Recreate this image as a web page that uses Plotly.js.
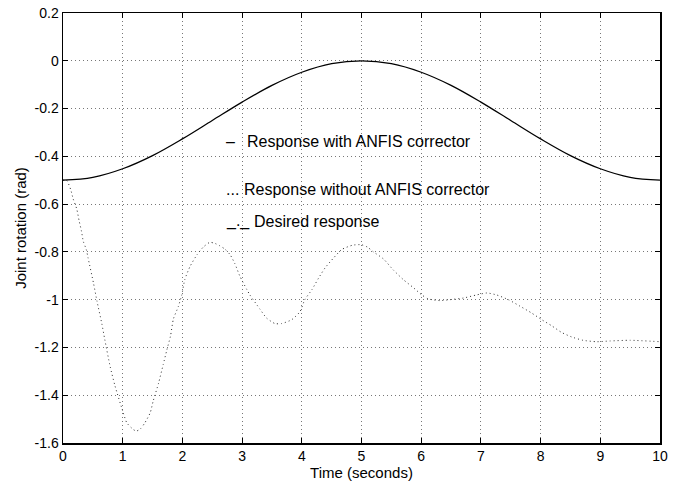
<!DOCTYPE html>
<html>
<head>
<meta charset="utf-8">
<script src="https://cdn.plot.ly/plotly-3.0.1.min.js"></script>
<style>html,body{margin:0;padding:0;background:#fff;}#chart{width:673px;height:483px;}</style>
</head>
<body>
<div id="chart"></div>
<script>
// Response with ANFIS corrector (coincides with desired response)
const timeWith = [0,0.5,1,1.5,2,2.5,3,3.5,4,4.5,5,5.5,6,6.5,7,7.5,8,8.5,9,9.5,10];
const rotWith  = [-0.500,-0.488,-0.452,-0.397,-0.327,-0.250,-0.173,-0.103,-0.048,-0.012,0.000,-0.012,-0.048,-0.103,-0.173,-0.250,-0.327,-0.397,-0.452,-0.488,-0.500];

// Response without ANFIS corrector
const timeWithout = [0,0.06,0.13,0.17,0.23,0.27,0.31,0.34,0.39,0.42,0.51,0.57,0.65,0.70,0.79,0.87,1.01,1.07,1.18,1.23,1.30,1.37,1.46,1.51,1.60,1.68,1.74,1.80,1.85,1.93,1.99,2.04,2.13,2.25,2.35,2.46,2.55,2.63,2.71,2.80,2.88,2.96,3.08,3.13,3.30,3.41,3.55,3.66,3.83,3.97,4.05,4.17,4.28,4.39,4.53,4.67,4.85,5.00,5.10,5.20,5.37,5.53,5.70,5.87,6.01,6.12,6.32,6.48,6.71,6.93,7.10,7.26,7.46,7.66,7.85,8.02,8.19,8.35,8.52,8.71,8.94,9.16,9.50,10.0];
const rotWithout  = [-0.500,-0.500,-0.540,-0.578,-0.620,-0.670,-0.714,-0.756,-0.790,-0.825,-0.930,-1.007,-1.100,-1.167,-1.280,-1.360,-1.474,-1.516,-1.544,-1.550,-1.540,-1.516,-1.474,-1.425,-1.350,-1.270,-1.210,-1.153,-1.080,-1.030,-0.980,-0.916,-0.860,-0.810,-0.780,-0.760,-0.765,-0.775,-0.788,-0.812,-0.850,-0.900,-0.958,-0.980,-1.040,-1.077,-1.100,-1.100,-1.084,-1.050,-1.000,-0.958,-0.910,-0.867,-0.826,-0.790,-0.772,-0.770,-0.780,-0.800,-0.830,-0.875,-0.916,-0.950,-0.980,-0.997,-1.004,-1.000,-0.993,-0.980,-0.972,-0.980,-1.000,-1.028,-1.056,-1.084,-1.110,-1.137,-1.156,-1.170,-1.176,-1.173,-1.170,-1.176];

const xTicks = [0,1,2,3,4,5,6,7,8,9,10];
const yTicks = [0.2,0,-0.2,-0.4,-0.6,-0.8,-1,-1.2,-1.4,-1.6];
const yTickText = ['0.2','0','-0.2','-0.4','-0.6','-0.8','-1','-1.2','-1.4','-1.6'];
const legendSymbols = ['–','...','_._'];
const legendTexts = ['Response with ANFIS corrector','Response without ANFIS corrector','Desired response'];
const legendTextX = [3.05, 3.0, 3.17];
const legendSymbolX = 2.7;
const legendY = [-0.338,-0.540,-0.672];

const font = 'Liberation Sans, Arial, Helvetica, sans-serif';

const traces = [
  {x: timeWithout, y: rotWithout, mode: 'lines', line: {color: '#333', width: 1, dash: '1px,3px', shape: 'spline', smoothing: 0.6}, hoverinfo: 'skip'},
  {x: timeWith, y: rotWith, mode: 'lines', line: {color: '#000', width: 1.3, shape: 'spline'}, hoverinfo: 'skip'}
];

const annotations = [];
legendTexts.forEach((t, i) => {
  annotations.push({x: legendSymbolX, y: legendY[i], xref: 'x', yref: 'y', xanchor: 'left', yanchor: 'middle',
    text: legendSymbols[i], showarrow: false, font: {size: 16, family: font, color: '#000'}});
  annotations.push({x: legendTextX[i], y: legendY[i], xref: 'x', yref: 'y', xanchor: 'left', yanchor: 'middle',
    text: t, showarrow: false, font: {size: 16, family: font, color: '#000'}});
});

const layout = {
  width: 673, height: 483,
  margin: {l: 63, r: 13, t: 13, b: 40},
  paper_bgcolor: '#fff', plot_bgcolor: '#fff',
  showlegend: false,
  font: {family: font, size: 13, color: '#000'},
  xaxis: {
    range: [0, 10], tickvals: xTicks, ticktext: xTicks.map(String),
    ticks: 'inside', ticklen: 5, tickcolor: '#000', mirror: 'ticks',
    showline: true, linecolor: '#000', linewidth: 1.5,
    showgrid: true, gridcolor: '#777', griddash: '1px,3px', gridwidth: 1,
    zeroline: false, tickfont: {size: 14},
    title: {text: 'Time (seconds)', font: {size: 15}, standoff: 1}
  },
  yaxis: {
    range: [-1.6, 0.2], tickvals: yTicks, ticktext: yTickText,
    ticks: 'inside', ticklen: 5, tickcolor: '#000', mirror: 'ticks',
    showline: true, linecolor: '#000', linewidth: 1.5,
    showgrid: true, gridcolor: '#777', griddash: '1px,3px', gridwidth: 1,
    zeroline: false, tickfont: {size: 14},
    title: {text: 'Joint rotation (rad)', font: {size: 15}, standoff: 4}
  },
  annotations: annotations
};

Plotly.newPlot('chart', traces, layout, {staticPlot: true, displayModeBar: false});
</script>
</body>
</html>
